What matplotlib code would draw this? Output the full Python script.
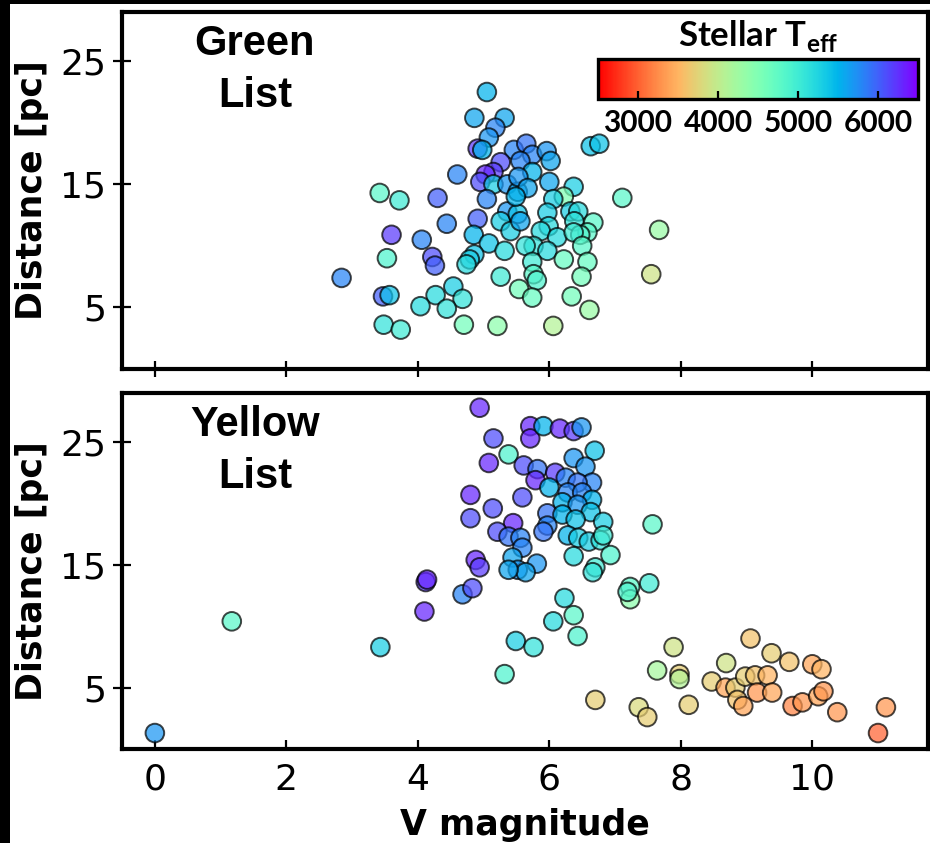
import matplotlib
matplotlib.use("Agg")
import matplotlib.pyplot as plt
from matplotlib.patches import Rectangle
from matplotlib.cm import ScalarMappable
from matplotlib.colors import Normalize
import numpy as np

# ---------------- data ----------------
green_v = [5.05, 4.86, 5.32, 5.18, 5.08, 4.91, 4.98, 5.46, 5.26, 5.15, 5.03, 4.95, 4.60, 5.15, 5.36,
           5.52, 5.05, 3.42, 3.72, 4.30, 5.36, 5.26, 5.52, 4.91, 4.44, 4.85, 5.41, 5.08, 5.32, 3.60,
           4.06, 4.22, 4.26, 4.86, 4.79, 4.74, 3.53, 2.84, 5.26, 3.47, 3.57, 4.27, 4.54, 4.68, 4.44,
           4.04, 3.48, 3.74, 4.70, 5.21, 6.63, 6.76, 5.65, 5.74, 5.96, 6.02, 5.56, 5.74, 5.53, 5.67,
           6.00, 6.37, 6.22, 6.06, 7.11, 5.49, 5.56, 5.97, 5.99, 6.32, 6.44, 6.38, 6.67, 6.58, 6.47,
           5.87, 6.12, 6.37, 6.50, 5.76, 5.64, 5.97, 6.22, 5.74, 6.58, 7.67, 5.76, 5.81, 5.54, 5.74,
           6.49, 6.34, 7.55, 6.61, 6.06]
green_d = [22.5, 20.4, 20.4, 19.6, 18.8, 17.9, 17.8, 17.8, 16.8, 16.0, 15.8, 15.2, 15.8, 15.0, 15.0,
           14.4, 13.8, 14.3, 13.7, 13.9, 12.8, 12.0, 12.6, 12.2, 11.8, 10.9, 11.2, 10.2, 9.6, 10.9,
           10.5, 9.1, 8.4, 9.3, 8.9, 8.5, 9.0, 7.4, 7.5, 5.9, 6.0, 6.0, 6.7, 5.7, 4.9,
           5.1, 3.6, 3.2, 3.6, 3.5, 18.1, 18.3, 18.3, 17.4, 17.7, 16.9, 16.9, 16.0, 15.6, 14.7,
           15.2, 14.8, 14.0, 13.8, 13.9, 14.0, 12.0, 12.7, 11.6, 12.8, 12.8, 12.0, 11.9, 11.1, 10.9,
           11.2, 10.7, 11.1, 10.0, 10.0, 10.0, 9.6, 8.9, 8.7, 8.7, 11.3, 7.7, 7.2, 6.5, 5.8,
           7.5, 5.9, 7.7, 4.8, 3.5]
green_teff = [5500, 5600, 5600, 5800, 5700, 6200, 5500, 5800, 6100, 6200, 6300, 6100, 5800, 5300, 5700,
              5600, 5800, 4800, 5000, 6000, 5700, 5300, 5400, 6000, 5800, 5500, 5300, 5400, 5200, 6200,
              5800, 6100, 6000, 5400, 5300, 5200, 4900, 5800, 5000, 6000, 5400, 5200, 5300, 5100, 5100,
              5200, 5100, 5000, 4600, 4400, 5400, 5400, 5900, 5800, 5700, 5600, 5800, 5500, 5700, 5600,
              5600, 5300, 4500, 5300, 4800, 5500, 5600, 5300, 5200, 5300, 5200, 5100, 4800, 4800, 4900,
              5200, 5200, 5000, 4800, 5100, 5100, 5200, 4700, 5000, 4700, 4300, 4800, 4900, 4600, 4700,
              4600, 4600, 3900, 4300, 4100]

yellow_v = [0.00, 1.17, 3.43, 4.12, 4.14, 4.10, 4.68, 4.83, 4.80, 4.80, 4.94, 5.71, 5.71, 5.91, 6.16,
            6.37, 6.49, 5.15, 5.38, 6.69, 5.08, 5.61, 5.82, 5.79, 6.09, 6.37, 6.55, 6.65, 6.25, 6.43,
            6.00, 6.28, 6.50, 6.65, 5.59, 5.14, 6.20, 6.43, 6.63, 5.97, 6.20, 6.40, 6.82, 5.97, 5.91,
            5.45, 5.21, 5.38, 5.56, 6.28, 6.44, 6.60, 6.78, 6.82, 5.59, 5.44, 5.81, 5.52, 5.64, 5.38,
            6.37, 6.93, 6.70, 6.66, 4.88, 4.94, 6.23, 6.37, 6.06, 6.43, 5.49, 5.76, 5.32, 7.23, 7.23,
            7.19, 7.52, 7.57, 7.89, 7.64, 7.98, 7.98, 6.70, 7.36, 7.49, 8.12, 9.06, 9.38, 9.65, 8.69,
            10.00, 10.14, 8.47, 8.68, 8.83, 8.98, 9.13, 9.32, 9.16, 9.39, 8.86, 8.95, 9.70, 9.85, 10.09,
            10.17, 10.38, 11.12, 11.00]
yellow_d = [1.3, 10.4, 8.3, 13.6, 13.8, 11.2, 12.6, 13.1, 20.7, 18.8, 27.8, 26.3, 25.3, 26.3, 26.1,
            25.9, 26.2, 25.3, 24.0, 24.3, 23.3, 23.1, 22.8, 21.9, 22.5, 23.7, 23.0, 21.7, 22.1, 21.7,
            21.3, 20.9, 20.9, 20.3, 20.5, 19.6, 20.1, 19.9, 19.3, 19.2, 19.1, 18.7, 18.5, 18.2, 17.7,
            18.4, 17.7, 17.3, 17.2, 17.4, 17.2, 16.9, 17.0, 17.4, 16.4, 15.6, 15.1, 14.6, 14.4, 14.6,
            15.7, 15.8, 14.8, 14.4, 15.4, 14.8, 12.3, 10.9, 10.4, 9.2, 8.8, 8.3, 6.1, 13.2, 12.2,
            12.8, 13.5, 18.3, 8.3, 6.4, 6.1, 5.7, 4.0, 3.4, 2.6, 3.6, 9.0, 7.8, 7.1, 7.0,
            6.9, 6.5, 5.5, 5.0, 5.0, 5.9, 6.0, 6.0, 4.6, 4.6, 4.0, 3.5, 3.5, 3.8, 4.3,
            4.7, 3.0, 3.4, 1.3]
yellow_teff = [5700, 4800, 5300, 6200, 6300, 6300, 5800, 6100, 6300, 6100, 6300, 6300, 6300, 5500, 6300,
               6200, 5700, 6100, 4900, 5400, 6300, 6100, 5900, 6300, 6200, 5700, 5700, 5800, 5800, 5900,
               5500, 5800, 5800, 5500, 6100, 6100, 5500, 5700, 5400, 5900, 5500, 5400, 5300, 5800, 5900,
               6300, 6100, 5900, 5800, 5500, 5300, 5300, 5100, 5000, 5800, 5600, 5700, 5700, 5600, 5600,
               5200, 4900, 5000, 5100, 6300, 6200, 5200, 4800, 5200, 4900, 5300, 5100, 4900, 4800, 4400,
               4900, 5000, 4800, 3900, 4200, 3700, 4100, 3700, 3800, 3700, 3700, 3600, 3700, 3600, 3900,
               3400, 3500, 3700, 3400, 3700, 3700, 3600, 3500, 3300, 3400, 3600, 3400, 3200, 3300, 3400,
               3300, 3300, 3300, 3000]

x_ticks = [0, 2, 4, 6, 8, 10]
y_ticks = [5, 15, 25]
cbar_ticks = [3000, 4000, 5000, 6000]
panel_titles = ["Green\nList", "Yellow\nList"]

# ---------------- style ----------------
plt.rcParams['mathtext.fontset'] = 'custom'
plt.rcParams['mathtext.rm'] = 'Lato'
plt.rcParams['mathtext.bf'] = 'Lato:bold'

W, H = 930, 843
fig = plt.figure(figsize=(W / 100, H / 100), dpi=100)
fig.patch.set_facecolor('white')

def fx(px):
    return px / W

def fy(py):
    return 1 - py / H

ax1 = fig.add_axes([fx(122), fy(369), fx(928) - fx(122), fy(12) - fy(369)])
ax2 = fig.add_axes([fx(122), fy(749), fx(928) - fx(122), fy(393) - fy(749)], sharex=ax1)

cmap = plt.get_cmap('rainbow_r')
vmin, vmax = 2500, 6500
norm = Normalize(vmin=vmin, vmax=vmax)

for ax, v, d, t, title in [(ax1, green_v, green_d, green_teff, panel_titles[0]),
                           (ax2, yellow_v, yellow_d, yellow_teff, panel_titles[1])]:
    ax.scatter(v, d, c=t, cmap=cmap, norm=norm, s=180,
               alpha=0.72, edgecolors='black', linewidths=1.4, zorder=3)
    ax.set_xlim(-0.5, 11.76)
    ax.set_ylim(0, 29)
    ax.set_yticks(y_ticks)
    ax.set_xticks(x_ticks)
    for sp in ax.spines.values():
        sp.set_linewidth(3)
    ax.tick_params(axis='y', direction='inout', length=12.5, width=1.6, labelsize=26, pad=5)
    ax.set_ylabel('Distance [pc]', fontsize=25, fontweight='bold', labelpad=8)
    ax.text(0.165, 0.965, title, transform=ax.transAxes, ha='center', va='top',
            fontsize=30, fontweight='bold', family='Liberation Sans', linespacing=1.38)

ax1.tick_params(axis='x', direction='inout', length=12, width=1.6, labelbottom=False)
ax2.tick_params(axis='x', direction='in', length=6.5, width=1.6, labelsize=26, pad=10)
ax2.set_xlabel('V magnitude', fontsize=25, fontweight='bold', labelpad=8)

# colorbar inset (opaque colours)
cax = fig.add_axes([fx(598), fy(99), fx(918) - fx(598), fy(59) - fy(99)])
cb = fig.colorbar(ScalarMappable(norm=norm, cmap=cmap), cax=cax,
                  orientation='horizontal', ticks=cbar_ticks)
cb.outline.set_linewidth(2.4)
cax.tick_params(axis='x', direction='in', length=5.5, width=1.6, pad=7)
for lab in cax.get_xticklabels():
    lab.set_fontfamily('Lato')
    lab.set_fontweight('bold')
    lab.set_fontsize(21.5)
cax.set_title(r'Stellar T$_{\mathbf{eff}}$', fontsize=25, fontweight='bold',
              family='Lato', pad=9)

# black screenshot border (left and top)
fig.patches.append(Rectangle((0, 0), fx(10), 1, transform=fig.transFigure,
                             facecolor='black', edgecolor='none', zorder=10))
fig.patches.append(Rectangle((0, fy(4)), 1, 1 - fy(4), transform=fig.transFigure,
                             facecolor='black', edgecolor='none', zorder=10))

fig.savefig('out.png', dpi=100)
